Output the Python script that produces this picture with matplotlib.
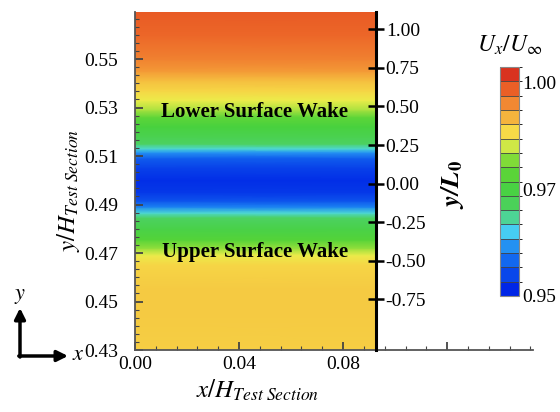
import matplotlib
matplotlib.use('Agg')
import matplotlib.pyplot as plt
import matplotlib.colors as mcolors
from matplotlib.cm import ScalarMappable
from matplotlib.ticker import AutoMinorLocator, MultipleLocator, FormatStrFormatter
import numpy as np

plt.rcParams['font.family'] = ['Liberation Serif', 'DejaVu Serif']
plt.rcParams['mathtext.fontset'] = 'stix'

# wake profile (y/H -> Ux/Uinf), constant along x
y_pos = [0.430, 0.445, 0.455, 0.465, 0.469, 0.472, 0.4755, 0.480, 0.4845,
         0.4865, 0.489, 0.4915, 0.495, 0.500, 0.505, 0.509, 0.5115, 0.513,
         0.515, 0.518, 0.522, 0.526, 0.529, 0.533, 0.537, 0.541, 0.545,
         0.550, 0.560, 0.5694]
u_ratio = [0.9905, 0.991, 0.991, 0.990, 0.987, 0.983, 0.978, 0.974, 0.970,
           0.966, 0.960, 0.955, 0.952, 0.951, 0.953, 0.956, 0.961, 0.966,
           0.970, 0.973, 0.976, 0.979, 0.984, 0.987, 0.990, 0.992, 0.995,
           0.997, 0.9995, 1.0005]
x_edges = [0.0, 0.0927]

x_ticks = [0.0, 0.04, 0.08, 0.12]
x_labels = ['0.00', '0.04', '0.08', '']
y_ticks = [0.43, 0.45, 0.47, 0.49, 0.51, 0.53, 0.55]
yl_ticks = [-0.75, -0.5, -0.25, 0.0, 0.25, 0.5, 0.75, 1.0]
cb_ticks = [0.95, 0.975, 1.00]
cb_labels = ['0.95', '0.97', '1.00']
levels = np.linspace(0.95, 1.0037, 17)

cmap = mcolors.LinearSegmentedColormap.from_list('tec', [
    (0.00, (0.00, 0.15, 0.90)),
    (0.18, (0.10, 0.50, 0.95)),
    (0.28, (0.30, 0.85, 0.95)),
    (0.36, (0.30, 0.82, 0.40)),
    (0.50, (0.28, 0.82, 0.22)),
    (0.60, (0.50, 0.86, 0.22)),
    (0.70, (0.97, 0.93, 0.30)),
    (0.78, (0.96, 0.76, 0.25)),
    (0.86, (0.95, 0.55, 0.20)),
    (0.93, (0.92, 0.38, 0.15)),
    (1.00, (0.85, 0.20, 0.12))])
vmin, vmax = levels[0], levels[-1]

W, H = 560, 412


def px(x0, y0, w, h):
    return [x0 / W, 1 - (y0 + h) / H, w / W, h / H]


fig = plt.figure(figsize=(5.6, 4.12), dpi=100)

ax = fig.add_axes(px(135, 12, 398, 338))
Z = np.column_stack([u_ratio, u_ratio])
ax.pcolormesh(x_edges, y_pos, Z, shading='gouraud', cmap=cmap, vmin=vmin, vmax=vmax)
ax.set_xlim(0, 0.153)
ax.set_ylim(0.43, 0.5694)
for s in ['top', 'right']:
    ax.spines[s].set_visible(False)
for s in ['left', 'bottom']:
    ax.spines[s].set_color('#555555')
    ax.spines[s].set_linewidth(1.3)
ax.set_xticks(x_ticks)
ax.set_xticklabels(x_labels)
ax.set_yticks(y_ticks)
ax.yaxis.set_major_formatter(FormatStrFormatter('%.2f'))
ax.xaxis.set_minor_locator(MultipleLocator(0.008))
ax.yaxis.set_minor_locator(AutoMinorLocator(6))
ax.tick_params(which='both', direction='in', color='#444444', labelsize=14)
ax.tick_params(axis='y', which='major', length=6, width=1.3, pad=12)
ax.tick_params(axis='y', which='minor', length=3, width=0.8)
ax.tick_params(axis='x', which='major', length=6, width=1.3, pad=4)
ax.tick_params(axis='x', which='minor', length=3, width=0.8)

ax.text(0.046, 0.5281, 'Lower Surface Wake', ha='center', va='center',
        fontweight='bold', fontsize=15)
ax.text(0.046, 0.4704, 'Upper Surface Wake', ha='center', va='center',
        fontweight='bold', fontsize=15)

# y/L0 axis on the right edge of the field
ax2 = fig.add_axes(px(135, 12, 241, 338))
ax2.patch.set_visible(False)
ax2.set_xlim(0, 1)
ax2.set_ylim(-1.077, 1.111)
for s in ['top', 'left', 'bottom']:
    ax2.spines[s].set_visible(False)
ax2.spines['right'].set_linewidth(2.2)
ax2.spines['right'].set_color('black')
ax2.set_xticks([])
ax2.yaxis.tick_right()
ax2.set_yticks(yl_ticks)
ax2.yaxis.set_major_formatter(FormatStrFormatter('%.2f'))
ax2.tick_params(axis='y', direction='inout', length=12, width=1.8, pad=1,
                labelsize=14)

# colorbar
cax = fig.add_axes(px(500, 67, 19, 229))
norm = mcolors.BoundaryNorm(levels, cmap.N)
cb = fig.colorbar(ScalarMappable(norm=norm, cmap=cmap), cax=cax, drawedges=True)
cb.set_ticks(cb_ticks)
cb.set_ticklabels(cb_labels)
cb.ax.tick_params(length=0, pad=2, labelsize=14)
cb.outline.set_edgecolor('#888888')
cb.outline.set_linewidth(0.8)
cb.dividers.set_color('#444444')
cb.dividers.set_linewidth(0.6)
fig.text(510 / W, 1 - 45 / H, r'$U_x/U_\infty$', ha='center', va='center',
         fontsize=17)

fig.text(68 / W, 1 - 190 / H, r'$y/H_{Test\ Section}$', rotation=90,
         ha='center', va='center', fontsize=18)
fig.text(258 / W, 1 - 390 / H, r'$x/H_{Test\ Section}$',
         ha='center', va='center', fontsize=18)
fig.text(452 / W, 1 - 185 / H, r'$\mathbfit{y/L}_\mathbf{0}$', rotation=90,
         ha='center', va='center', fontsize=19)

# x-y direction arrows
arrow = dict(arrowstyle='-|>', lw=2.5, color='black', mutation_scale=16,
             shrinkA=0, shrinkB=0)
ax.annotate('', xy=(20, H - 308), xytext=(20, H - 357),
            xycoords='figure pixels', textcoords='figure pixels', arrowprops=arrow)
ax.annotate('', xy=(68, H - 356), xytext=(18.8, H - 356),
            xycoords='figure pixels', textcoords='figure pixels', arrowprops=arrow)
fig.text(20 / W, 1 - 297 / H, r'$y$', ha='center', va='center', fontsize=16)
fig.text(72 / W, 1 - 356 / H, r'$x$', ha='left', va='center', fontsize=16)

fig.savefig('out.png', dpi=100)
